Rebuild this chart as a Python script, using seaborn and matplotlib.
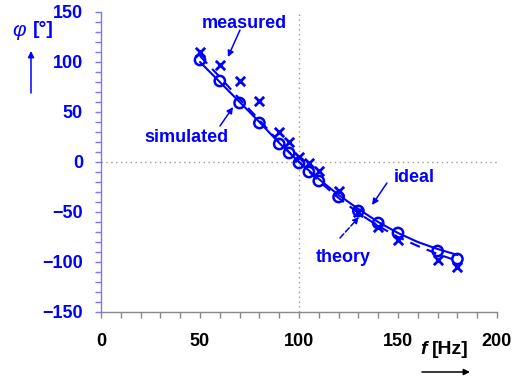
import matplotlib
matplotlib.use("Agg")
import matplotlib.pyplot as plt
import seaborn as sns
import pandas as pd
from matplotlib.ticker import MultipleLocator

# ---- data ----
f_meas = [50, 60, 70, 80, 90, 95, 100, 105, 110, 120, 130, 140, 150, 170, 180]
phi_meas = [110, 97, 81, 61, 30, 20, 5, -1, -9, -29, -50, -65, -78, -98, -105]

f_sim = [50, 60, 70, 80, 90, 95, 100, 105, 110, 120, 130, 140, 150, 170, 180]
phi_sim = [102, 81, 59, 39, 18, 9, -1, -10, -19, -35, -49, -61, -71, -89, -97]

f_line = [50, 60, 70, 80, 90, 100, 110, 120, 130, 140, 150, 160, 170, 180]
phi_ideal = [100, 80, 60, 40, 19, 0, -17, -33, -47, -60, -71, -80, -87, -93]
phi_theory = [106, 85, 63, 42, 20, 0, -19, -36, -51, -64, -75, -84, -92, -99]

x_ticks = [0, 50, 100, 150, 200]
y_ticks = [-150, -100, -50, 0, 50, 100, 150]

BLUE = "#0000ff"
FONT = "Liberation Sans"

sns.set_style("ticks")
plt.rcParams["font.family"] = [FONT, "DejaVu Sans"]

fig = plt.figure(figsize=(5.22, 3.77), dpi=100)
ax = fig.add_axes([101 / 522, 1 - 312 / 377, (497 - 101) / 522, (312 - 12) / 377])

df_line = pd.DataFrame({"f": f_line, "ideal": phi_ideal, "theory": phi_theory})
sns.lineplot(data=df_line, x="f", y="ideal", ax=ax, color=BLUE, lw=1.5)
sns.lineplot(data=df_line, x="f", y="theory", ax=ax, color=BLUE, lw=1.5,
             linestyle=(0, (5, 3.5)))

df_sim = pd.DataFrame({"f": f_sim, "phi": phi_sim})
df_meas = pd.DataFrame({"f": f_meas, "phi": phi_meas})
sns.scatterplot(data=df_sim, x="f", y="phi", ax=ax, marker="o", s=55,
                facecolors="none", edgecolor=BLUE, linewidth=1.8, zorder=4)
sns.scatterplot(data=df_meas, x="f", y="phi", ax=ax, marker="x", s=45,
                color=BLUE, linewidth=2.0, zorder=4)

ax.axvline(100, color="#999999", lw=1, linestyle=(0, (1, 2.5)), zorder=1)
ax.axhline(0, color="#999999", lw=1, linestyle=(0, (1, 2.5)), zorder=1)

ax.set_xlim(0, 200)
ax.set_ylim(-150, 150)
ax.set_xticks(x_ticks)
ax.set_yticks(y_ticks)
ax.xaxis.set_minor_locator(MultipleLocator(10))
ax.yaxis.set_minor_locator(MultipleLocator(10))
ax.set_xlabel("")
ax.set_ylabel("")

sns.despine(ax=ax)
ax.spines["left"].set_color("#7777ff")
ax.spines["bottom"].set_color("#888888")
ax.spines["left"].set_linewidth(1.0)
ax.spines["bottom"].set_linewidth(1.0)

ax.tick_params(axis="y", which="both", colors="#7777ff", length=4, width=1,
               direction="out", pad=9)
ax.tick_params(axis="x", which="both", colors="#888888", length=4, width=1,
               direction="out", pad=11)
for lab in ax.get_yticklabels():
    lab.set_color(BLUE)
    lab.set_fontweight("bold")
    lab.set_fontsize(13)
for lab in ax.get_xticklabels():
    lab.set_color("black")
    lab.set_fontweight("bold")
    lab.set_fontsize(13)

# ---- annotations ----
tkw = dict(color=BLUE, fontsize=13, fontweight="bold", ha="center", va="center")
ax.text(72.2, 139, "measured", **tkw)
ax.text(42.9, 24, "simulated", **tkw)
ax.text(158, -16, "ideal", **tkw)
ax.text(122.2, -95, "theory", **tkw)

akw = dict(arrowstyle="-|>", color=BLUE, lw=1.1, mutation_scale=9,
           shrinkA=0, shrinkB=0)
ax.annotate("", xy=(64.1, 105), xytext=(70.2, 132), arrowprops=akw)
ax.annotate("", xy=(66.7, 55), xytext=(60.1, 36), arrowprops=akw)
ax.annotate("", xy=(136.9, -43), xytext=(144.4, -21), arrowprops=akw)
akw_d = dict(akw, linestyle="--")
ax.annotate("", xy=(130.3, -55), xytext=(120.7, -76), arrowprops=akw_d)

# ---- axis labels ----
fig.text(19 / 522, 1 - 30 / 377, "φ", color=BLUE, fontsize=15, fontstyle="italic",
         ha="center", va="center", family=[FONT, "DejaVu Sans"])
fig.text(43 / 522, 1 - 30 / 377, "[°]", color=BLUE, fontsize=14, fontweight="bold",
         ha="center", va="center")
fig.text(424 / 522, 1 - 350 / 377, "f", color="black", fontsize=14,
         fontweight="bold", fontstyle="italic", ha="center", va="center")
fig.text(450 / 522, 1 - 350 / 377, "[Hz]", color="black", fontsize=14,
         fontweight="bold", ha="center", va="center")

ax.annotate("", xy=(31, 377 - 51), xytext=(31, 377 - 93), xycoords="figure pixels",
            textcoords="figure pixels",
            arrowprops=dict(arrowstyle="-|>", color=BLUE, lw=1.1, mutation_scale=9,
                            shrinkA=0, shrinkB=0))
ax.annotate("", xy=(470, 377 - 372), xytext=(422, 377 - 372), xycoords="figure pixels",
            textcoords="figure pixels",
            arrowprops=dict(arrowstyle="-|>", color="black", lw=1.1, mutation_scale=9,
                            shrinkA=0, shrinkB=0))

fig.savefig("out.png", dpi=100)
